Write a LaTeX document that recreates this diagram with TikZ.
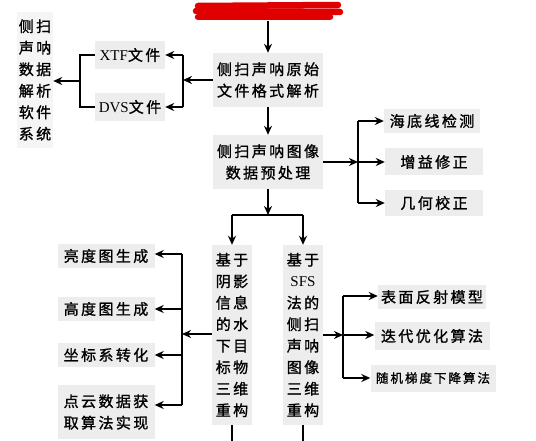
\documentclass[tikz,border=0pt]{standalone}
\usepackage{fontspec}
\setmainfont{Liberation Serif}
\newfontfamily\cjk[LetterSpace=16,FakeBold=1.2]{Noto Sans CJK SC}
\usetikzlibrary{arrows.meta}
\newcommand\lat[1]{{\rmfamily #1}}
\tikzset{
  box/.style={fill=gray!14, inner sep=0pt, align=center, font=\cjk\fontsize{15}{21.5}\selectfont},
  smallbox/.style={box, font=\cjk\fontsize{12.5}{16}\selectfont},
  ln/.style={line width=1.7pt, black},
  arr/.style={ln, -{Stealth[length=9pt,width=8pt]}},
}
\begin{document}
\begin{tikzpicture}[x=1pt,y=-1pt]
\useasboundingbox (0,0) rectangle (536,441);
% red redaction
\begin{scope}[line cap=round, red!88!black, line width=6.5pt]
\draw (198,6) -- (338,5);
\draw (196,11) -- (340,12);
\draw (198,17) -- (330,17);
\end{scope}
\coordinate (top) at (268,21);
% nodes
\node[box, minimum width=110pt, minimum height=54pt] (m1) at (268,80) {侧扫声呐原始\\文件格式解析};
\node[box, minimum width=110pt, minimum height=54pt] (m2) at (268,162) {侧扫声呐图像\\数据预处理};
\node[box, minimum width=70pt, minimum height=28pt] (xtf) at (130,55) {\lat{XTF}文件};
\node[box, minimum width=70pt, minimum height=28pt] (dvs) at (130,107) {\lat{DVS}文件};
\node[box, fill=gray!8, minimum width=36pt, minimum height=136pt] (sys) at (35,80) {侧扫\\声呐\\数据\\解析\\软件\\系统};
\node[box, minimum width=96pt, minimum height=24pt] (h1) at (432,121) {海底线检测};
\node[box, minimum width=98pt, minimum height=27pt] (h2) at (434,162) {增益修正};
\node[box, minimum width=98pt, minimum height=26pt] (h3) at (434,203) {几何校正};
\node[box, minimum width=40pt, minimum height=180pt] (L) at (232,335) {基于\\阴影\\信息\\的水\\下目\\标物\\三维\\重构};
\node[box, minimum width=40pt, minimum height=180pt] (R) at (303,335) {基于\\\lat{SFS}\\法的\\侧扫\\声呐\\图像\\三维\\重构};
\node[box, minimum width=97pt, minimum height=24pt] (l1) at (106,256) {亮度图生成};
\node[box, minimum width=97pt, minimum height=24pt] (l2) at (106,309) {高度图生成};
\node[box, minimum width=97pt, minimum height=24pt] (l3) at (106,355) {坐标系转化};
\node[box, minimum width=97pt, minimum height=54pt] (l4) at (106,412) {点云数据获\\取算法实现};
\node[box, minimum width=108pt, minimum height=24pt] (r1) at (432,297) {表面反射模型};
\node[box, minimum width=115pt, minimum height=28pt] (r2) at (432,336) {迭代优化算法};
\node[smallbox, minimum width=125pt, minimum height=27pt] (r3) at (433,378) {随机梯度下降算法};
% helper coordinates
\coordinate (ja) at (183,80);
\coordinate (ja1) at (183,55);
\coordinate (ja2) at (183,107);
\coordinate (jb) at (80,81);
\coordinate (jb1) at (80,55);
\coordinate (jb2) at (80,107);
\coordinate (jc) at (358,162);
\coordinate (jc1) at (358,121);
\coordinate (jc3) at (358,203);
\coordinate (jd) at (268,215);
\coordinate (jd1) at (232,215);
\coordinate (jd2) at (303,215);
\coordinate (je) at (182,334);
\coordinate (je1) at (182,254);
\coordinate (je2) at (182,309);
\coordinate (je3) at (182,355);
\coordinate (je4) at (182,405);
\coordinate (jf) at (343,335);
\coordinate (jf1) at (343,296);
\coordinate (jf3) at (343,378);
\coordinate (endL) at (232,441);
\coordinate (endR) at (303,441);
% connectors
\draw[arr] (top) -- (m1.north);
\draw[arr] (m1.west) -- (ja);
\draw[ln] (ja1) -- (ja2);
\draw[arr] (ja1) -- (xtf.east |- ja1);
\draw[arr] (ja2) -- (dvs.east |- ja2);
\draw[ln] (xtf.west) -- (jb1) -- (jb2) -- (dvs.west);
\draw[arr] (jb) -- (sys.east |- jb);
\draw[arr] (m1.south) -- (m2.north);
\draw[arr] (m2.east) -- (jc);
\draw[ln] (jc1) -- (jc3);
\draw[arr] (jc1) -- (h1.west |- jc1);
\draw[arr] (jc) -- (h2.west);
\draw[arr] (jc3) -- (h3.west |- jc3);
\draw[arr] (m2.south) -- (jd);
\draw[ln] (jd1) -- (jd2);
\draw[arr] (jd1) -- (L.north);
\draw[arr] (jd2) -- (R.north);
\draw[arr] (L.west |- je) -- (je);
\draw[ln] (je1) -- (je4);
\draw[arr] (je1) -- (l1.east |- je1);
\draw[arr] (je2) -- (l2.east |- je2);
\draw[arr] (je3) -- (l3.east |- je3);
\draw[arr] (je4) -- (l4.east |- je4);
\draw[arr] (R.east |- jf) -- (jf);
\draw[ln] (jf1) -- (jf3);
\draw[arr] (jf1) -- (r1.west |- jf1);
\draw[arr] (jf) -- (r2.west |- jf);
\draw[arr] (jf3) -- (r3.west |- jf3);
\draw[ln] (L.south) -- (endL);
\draw[ln] (R.south) -- (endR);
\end{tikzpicture}
\end{document}
